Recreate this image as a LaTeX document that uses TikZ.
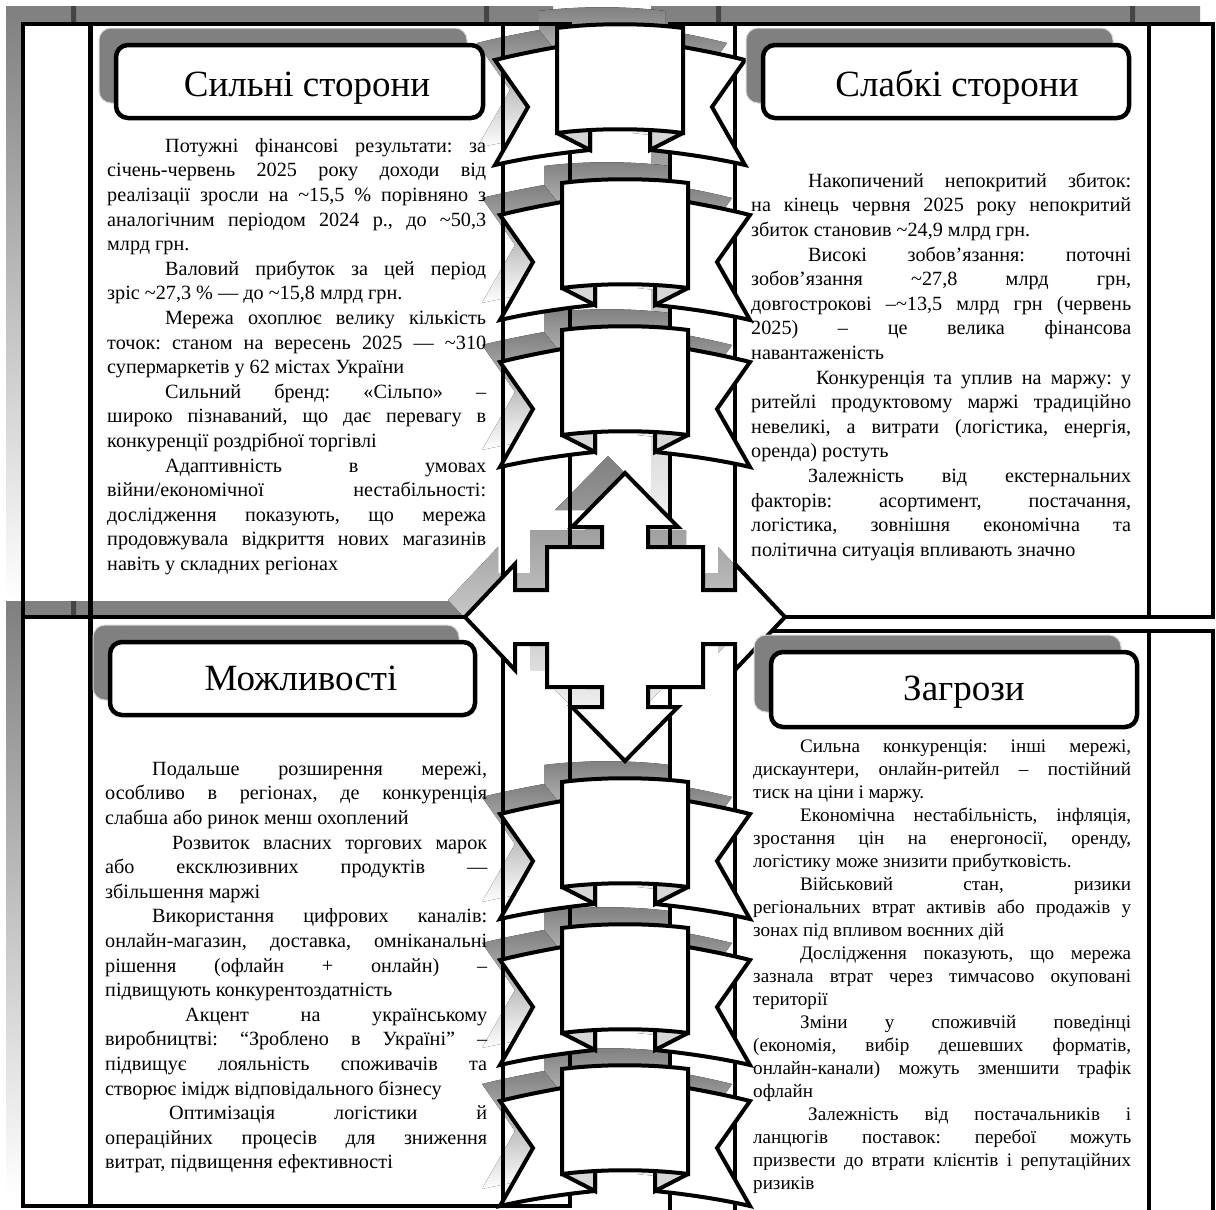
\documentclass[tikz,border=0pt]{standalone}
\usepackage{fontspec}
\setmainfont{Liberation Serif}
\usetikzlibrary{calc,positioning}
\definecolor{shade}{HTML}{808080}
\definecolor{darkshade}{HTML}{454545}
\definecolor{foldgray}{HTML}{D6D6D6}
\newcommand{\tld}{\textasciitilde}
\newcommand{\ind}[1]{\strut\hspace*{#1pt}}
\tolerance=10000
\hyphenpenalty=10000
\exhyphenpenalty=10000
\hbadness=10000
\frenchspacing

\begin{document}
\begin{tikzpicture}[x=1pt,y=-1pt]
\tikzstyle{panel}=[draw=black, line width=4.5pt]
\tikzstyle{band}=[draw=black, fill=white, line width=4pt, miter limit=3]
\tikzstyle{titlebox}=[draw=black, fill=white, line width=4.5pt, rounded corners=12pt]
\tikzstyle{titleshade}=[fill=shade, draw=gray!30, line width=1pt, rounded corners=12pt]
\tikzstyle{titletext}=[anchor=base, inner sep=0pt, font=\fontsize{37pt}{40pt}\selectfont]
\tikzstyle{body}=[anchor=north west, inner sep=0pt, align=justify, font=\fontsize{20.2pt}{24.6pt}\selectfont]

\useasboundingbox (0,0) rectangle (1216,1210);

% panel shadows and white grounds
\fill[shade] (6,6) rectangle (553,600);
\fill[darkshade] (71,6) rectangle (76,24) (484,6) rectangle (489,24);
\fill[white] (23,24) rectangle (570,617);
\fill[shade] (651,6) rectangle (1200,600);
\fill[darkshade] (716,6) rectangle (721,24) (1130,6) rectangle (1135,24);
\fill[white] (670,24) rectangle (1213,617);
\fill[shade] (6,601) rectangle (553,1195);
\fill[darkshade] (71,601) rectangle (76,617) (484,601) rectangle (489,617);
\fill[white] (23,617) rectangle (570,1206);
\fill[white] (670,631) rectangle (1213,1215);

% shadows of the ribbons and of the cross arrow
\foreach \cx/\cy in {620/28, 625/183, 625/330, 625/782, 625/928, 625/1069}{
  \begin{scope}[shift={(\cx-18,\cy-17)}]
    \fill[shade] (-63,0) .. controls (-25,-5) and (25,-5) .. (63,0) -- (63,105) -- (-63,105) -- cycle;
    \foreach \s in {1,-1}
      \fill[shade, xscale=\s] (-63,19) .. controls (-85,23) and (-105,27) .. (-125,32) -- (-92,79) -- (-125,137) .. controls (-95,130) and (-60,125) .. (-30,122) -- (-30,60) -- cycle;
  \end{scope}
}
\fill[shade, shift={(608,600)}] (0,-144) -- (53,-90) -- (23,-90) -- (23,-70) -- (78,-70) -- (78,-27) -- (110,-27) -- (110,-53) -- (160,0) -- (110,53) -- (110,27) -- (78,27) -- (78,70) -- (23,70) -- (23,90) -- (53,90) -- (0,144) -- (-53,90) -- (-23,90) -- (-23,70) -- (-78,70) -- (-78,27) -- (-110,27) -- (-110,53) -- (-160,0) -- (-110,-53) -- (-110,-27) -- (-78,-27) -- (-78,-70) -- (-23,-70) -- (-23,-90) -- (-53,-90) -- cycle;

% panel frames with their two inner rules
\foreach \xl/\xi/\xj/\xr/\yt/\yb in {23/90.5/503/570/24/617, 670/735/1149/1213/24/617, 23/90.5/503/570/617/1206, 670/735/1149/1213/631/1215}{
  \draw[panel] (\xl,\yt) rectangle (\xr,\yb) (\xi,\yt) -- (\xi,\yb) (\xj,\yt) -- (\xj,\yb);
}

% ribbons
\foreach \cx/\cy in {620/28, 625/183, 625/330, 625/782, 625/928, 625/1069}{
  \begin{scope}[shift={(\cx,\cy)}]
    \foreach \s in {1,-1}{
      \draw[band, xscale=\s] (-63,19) .. controls (-85,23) and (-105,27) .. (-125,32) -- (-92,79) -- (-125,137) .. controls (-95,130) and (-60,125) .. (-30,122) -- (-30,60) -- cycle;
      \draw[band, fill=foldgray, xscale=\s] (-63,105) -- (-30,122) -- (-30,102);
    }
    \draw[band] (-63,0) .. controls (-25,-5) and (25,-5) .. (63,0) -- (63,105) .. controls (25,100) and (-25,100) .. (-63,105) -- cycle;
  \end{scope}
}

% cross arrow in the middle
\draw[band, shift={(625,617)}] (0,-144) -- (53,-90) -- (23,-90) -- (23,-70) -- (78,-70) -- (78,-27) -- (110,-27) -- (110,-53) -- (160,0) -- (110,53) -- (110,27) -- (78,27) -- (78,70) -- (23,70) -- (23,90) -- (53,90) -- (0,144) -- (-53,90) -- (-23,90) -- (-23,70) -- (-78,70) -- (-78,27) -- (-110,27) -- (-110,53) -- (-160,0) -- (-110,-53) -- (-110,-27) -- (-78,-27) -- (-78,-70) -- (-23,-70) -- (-23,-90) -- (-53,-90) -- cycle;

% title boxes
\foreach \xa/\ya/\xb/\yb in {116/45/483/118, 763/45/1129/118, 110/642/475/715, 771/652/1137/727}{
  \draw[titleshade] (\xa-17,\ya-17) rectangle (\xb-16,\yb-15);
  \draw[titlebox] (\xa,\ya) rectangle (\xb,\yb);
}
\node[titletext] (strengths) at (307,96) {Сильні сторони};
\node[titletext] (weaknesses) at (957,96) {Слабкі сторони};
\node[titletext] (opportunities) at (301,690) {Можливості};
\node[titletext] (threats) at (964,700) {Загрози};

% texts
\node[body, text width=379pt] (strengthtext) at (107,134.8) {%
\ind{58}Потужні фінансові результати: за\linebreak
січень-червень 2025 року доходи від\linebreak
реалізації зросли на \tld15,5 \% порівняно з\linebreak
аналогічним періодом 2024 р., до \tld50,3\linebreak
млрд грн.\par
\ind{58}Валовий прибуток за цей період\linebreak
зріс \tld27,3 \% — до \tld15,8 млрд грн.\par
\ind{58}Мережа охоплює велику кількість\linebreak
точок: станом на вересень 2025 — \tld310\linebreak
супермаркетів у 62 містах України\par
\ind{58}Сильний бренд: «Сільпо» –\linebreak
широко пізнаваний, що дає перевагу в\linebreak
конкуренції роздрібної торгівлі\par
\ind{58}Адаптивність в умовах\linebreak
війни/економічної нестабільності:\linebreak
дослідження показують, що мережа\linebreak
продовжувала відкриття нових магазинів\linebreak
навіть у складних регіонах\par};

\node[body, text width=380pt] (weaknesstext) at (751,169.8) {%
\ind{57}Накопичений непокритий збиток:\linebreak
на кінець червня 2025 року непокритий\linebreak
збиток становив \tld24,9 млрд грн.\par
\ind{57}Високі зобов’язання: поточні\linebreak
зобов’язання \tld27,8 млрд грн,\linebreak
довгострокові –\tld13,5 млрд грн (червень\linebreak
2025) – це велика фінансова\linebreak
навантаженість\par
\ind{65}Конкуренція та уплив на маржу: у\linebreak
ритейлі продуктовому маржі традиційно\linebreak
невеликі, а витрати (логістика, енергія,\linebreak
оренда) ростуть\par
\ind{57}Залежність від екстернальних\linebreak
факторів: асортимент, постачання,\linebreak
логістика, зовнішня економічна та\linebreak
політична ситуація впливають значно\par};

\node[body, text width=382pt] (opportunitytext) at (105,757.8) {%
\ind{47}Подальше розширення мережі,\linebreak
особливо в регіонах, де конкуренція\linebreak
слабша або ринок менш охоплений\par
\ind{67}Розвиток власних торгових марок\linebreak
або ексклюзивних продуктів —\linebreak
збільшення маржі\par
\ind{47}Використання цифрових каналів:\linebreak
онлайн-магазин, доставка, омніканальні\linebreak
рішення (офлайн + онлайн) –\linebreak
підвищують конкурентоздатність\par
\ind{80}Акцент на українському\linebreak
виробництві: “Зроблено в Україні” –\linebreak
підвищує лояльність споживачів та\linebreak
створює імідж відповідального бізнесу\par
\ind{64}Оптимізація логістики й\linebreak
операційних процесів для зниження\linebreak
витрат, підвищення ефективності\par};

\node[body, text width=378pt, font=\fontsize{19.1pt}{23pt}\selectfont] (threattext) at (753,735.9) {%
\ind{47}Сильна конкуренція: інші мережі,\linebreak
дискаунтери, онлайн-ритейл – постійний\linebreak
тиск на ціни і маржу.\par
\ind{47}Економічна нестабільність, інфляція,\linebreak
зростання цін на енергоносії, оренду,\linebreak
логістику може знизити прибутковість.\par
\ind{47}Військовий стан, ризики\linebreak
регіональних втрат активів або продажів у\linebreak
зонах під впливом воєнних дій\par
\ind{47}Дослідження показують, що мережа\linebreak
зазнала втрат через тимчасово окуповані\linebreak
території\par
\ind{47}Зміни у споживчій поведінці\linebreak
(економія, вибір дешевших форматів,\linebreak
онлайн-канали) можуть зменшити трафік\linebreak
офлайн\par
\ind{55}Залежність від постачальників і\linebreak
ланцюгів поставок: перебої можуть\linebreak
призвести до втрати клієнтів і репутаційних\linebreak
ризиків\par};
\end{tikzpicture}
\end{document}
